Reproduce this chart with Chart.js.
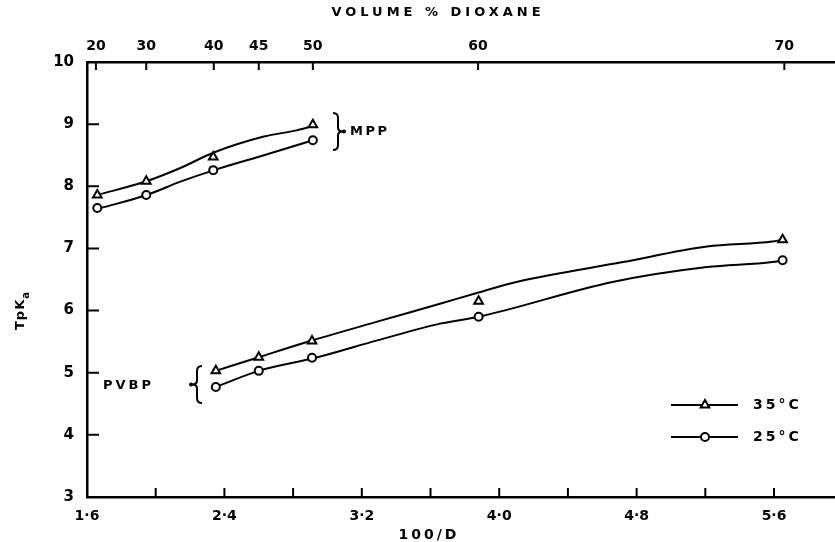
<!DOCTYPE html>
<html>
<head>
<meta charset="utf-8">
<script src="https://cdn.jsdelivr.net/npm/chart.js@4.4.1/dist/chart.umd.min.js"></script>
<style>
  html, body { margin: 0; padding: 0; background: #fff; }
  #wrap { width: 835px; height: 542px; position: relative; }
</style>
</head>
<body>
<div id="wrap"><canvas id="chart"></canvas></div>
<script>
// bottom axis (100/D) and left axis (TpKa)
const xTicks = [1.6, 2.0, 2.4, 2.8, 3.2, 3.6, 4.0, 4.4, 4.8, 5.2, 5.6];
const xTickLabels = ['1·6', '', '2·4', '', '3·2', '', '4·0', '', '4·8', '', '5·6'];
const yTicks = [3, 4, 5, 6, 7, 8, 9, 10];

// top axis: volume % dioxane and where each value sits on the 100/D scale
const dioxanePct = [20, 30, 40, 45, 50, 60, 70];
const dioxaneAt = [1.652, 1.945, 2.338, 2.60, 2.915, 3.877, 5.66];

// measured points
const mppX = [1.66, 1.945, 2.335, 2.915];
const mpp35 = [7.86, 8.08, 8.47, 8.99];
const mpp25 = [7.65, 7.86, 8.26, 8.74];
const pvbpX = [2.35, 2.60, 2.91, 3.88, 5.65];
const pvbp35 = [5.03, 5.25, 5.51, 6.15, 7.14];
const pvbp25 = [4.77, 5.03, 5.24, 5.90, 6.81];

// drawn curves
const mpp35LineX = [1.66, 1.945, 2.14, 2.335, 2.63, 2.82, 2.915];
const mpp35LineY = [7.86, 8.08, 8.29, 8.54, 8.80, 8.90, 8.97];
const mpp25LineX = [1.68, 1.948, 2.14, 2.34, 2.63, 2.916];
const mpp25LineY = [7.65, 7.86, 8.07, 8.26, 8.50, 8.74];
const pvbp35LineX = [2.35, 2.60, 2.90, 3.30, 3.655, 3.88, 4.10, 4.72, 5.21, 5.59, 5.65];
const pvbp35LineY = [5.03, 5.25, 5.51, 5.83, 6.11, 6.29, 6.46, 6.78, 7.03, 7.11, 7.14];
const pvbp25LineX = [2.35, 2.60, 2.93, 3.29, 3.655, 3.88, 4.66, 5.21, 5.59, 5.65];
const pvbp25LineY = [4.77, 5.03, 5.24, 5.52, 5.79, 5.90, 6.46, 6.70, 6.78, 6.81];

const FONT = '"DejaVu Sans", sans-serif';
const pairs = (xs, ys) => xs.map((x, i) => ({ x, y: ys[i] }));

const points = (xs, ys, style, r) => ({
  data: pairs(xs, ys),
  showLine: false,
  pointStyle: style,
  pointRadius: r,
  pointHoverRadius: r,
  pointBorderWidth: 2,
  pointBorderColor: '#000',
  pointBackgroundColor: '#fff'
});

const curve = (xs, ys) => ({
  data: pairs(xs, ys),
  showLine: true,
  borderColor: '#000',
  borderWidth: 2,
  pointRadius: 0,
  cubicInterpolationMode: 'monotone',
  fill: false
});

const drawBrace = (ctx, x, y1, y2, dir) => {
  const ym = (y1 + y2) / 2;
  const w = 5 * dir;
  ctx.beginPath();
  ctx.moveTo(x, y1);
  ctx.quadraticCurveTo(x + w, y1, x + w, y1 + 5);
  ctx.lineTo(x + w, ym - 4);
  ctx.quadraticCurveTo(x + w, ym, x + 2 * w, ym);
  ctx.quadraticCurveTo(x + w, ym, x + w, ym + 4);
  ctx.lineTo(x + w, y2 - 5);
  ctx.quadraticCurveTo(x + w, y2, x, y2);
  ctx.stroke();
  ctx.beginPath();
  ctx.arc(x + 2 * w + dir, ym, 2, 0, Math.PI * 2);
  ctx.fill();
};

const spaced = (ctx, text, x, y, spacing) => {
  ctx.letterSpacing = spacing + 'px';
  ctx.fillText(text, x, y);
  ctx.letterSpacing = '0px';
};

const decorations = {
  id: 'decorations',
  afterDraw(chart) {
    const { ctx, chartArea, scales } = chart;
    ctx.save();
    ctx.strokeStyle = '#000';
    ctx.fillStyle = '#000';
    ctx.lineWidth = 2;

    // inward tick marks
    ctx.beginPath();
    xTicks.forEach(v => {
      const px = scales.x.getPixelForValue(v);
      ctx.moveTo(px, chartArea.bottom);
      ctx.lineTo(px, chartArea.bottom - 9);
    });
    dioxaneAt.forEach(v => {
      const px = scales.x2.getPixelForValue(v);
      ctx.moveTo(px, chartArea.top);
      ctx.lineTo(px, chartArea.top + 8);
    });
    yTicks.forEach(v => {
      const py = scales.y.getPixelForValue(v);
      ctx.moveTo(chartArea.left, py);
      ctx.lineTo(chartArea.left + 12, py);
    });
    ctx.stroke();

    // axis titles
    ctx.textBaseline = 'middle';
    ctx.textAlign = 'center';
    ctx.font = 'bold 13px ' + FONT;
    spaced(ctx, 'VOLUME % DIOXANE', 438, 13, 4);
    ctx.font = 'bold 14px ' + FONT;
    spaced(ctx, '100/D', 429, 535, 3);

    ctx.save();
    ctx.translate(21, 306);
    ctx.rotate(-Math.PI / 2);
    ctx.textAlign = 'left';
    ctx.font = 'bold 13px ' + FONT;
    ctx.letterSpacing = '1px';
    ctx.fillText('TpK', -24, 0);
    const w = ctx.measureText('TpK').width;
    ctx.font = 'bold 10px ' + FONT;
    ctx.fillText('a', -24 + w, 5);
    ctx.restore();

    // series labels with braces
    drawBrace(ctx, 333, 113, 150, 1);
    drawBrace(ctx, 202, 366, 403, -1);
    ctx.textAlign = 'left';
    ctx.font = 'bold 13px ' + FONT;
    spaced(ctx, 'MPP', 350, 132, 2.5);
    spaced(ctx, 'PVBP', 103, 386, 3);

    // legend
    const legend = [
      { y: 405, label: '35°C', style: 'triangle' },
      { y: 437, label: '25°C', style: 'circle' }
    ];
    legend.forEach(item => {
      ctx.lineWidth = 2;
      ctx.beginPath();
      ctx.moveTo(671, item.y);
      ctx.lineTo(738, item.y);
      ctx.stroke();
      ctx.beginPath();
      if (item.style === 'triangle') {
        const r = 5;
        ctx.moveTo(705, item.y - r);
        ctx.lineTo(705 + r * 0.866, item.y + r / 2);
        ctx.lineTo(705 - r * 0.866, item.y + r / 2);
        ctx.closePath();
      } else {
        ctx.arc(705, item.y, 4, 0, Math.PI * 2);
      }
      ctx.fillStyle = '#fff';
      ctx.fill();
      ctx.stroke();
      ctx.fillStyle = '#000';
      ctx.font = 'bold 14px ' + FONT;
      spaced(ctx, item.label, 753, item.y, 3);
    });

    ctx.restore();
  }
};

const tickFont = { family: FONT, size: 14, weight: 'bold' };
const fitHorizontal = h => s => {
  s.height = h;
  s.paddingLeft = 0;
  s.paddingRight = 0;
};

new Chart(document.getElementById('chart'), {
  type: 'scatter',
  data: {
    datasets: [
      points(mppX, mpp35, 'triangle', 5),
      points(mppX, mpp25, 'circle', 4),
      points(pvbpX, pvbp35, 'triangle', 5),
      points(pvbpX, pvbp25, 'circle', 4),
      curve(mpp35LineX, mpp35LineY),
      curve(mpp25LineX, mpp25LineY),
      curve(pvbp35LineX, pvbp35LineY),
      curve(pvbp25LineX, pvbp25LineY)
    ]
  },
  options: {
    responsive: true,
    maintainAspectRatio: false,
    animation: false,
    layout: { padding: 0, autoPadding: false },
    plugins: { legend: { display: false }, tooltip: { enabled: false } },
    scales: {
      x: {
        type: 'linear',
        position: 'bottom',
        min: 1.6,
        max: 5.955,
        afterBuildTicks: s => { s.ticks = xTicks.map(v => ({ value: v })); },
        afterFit: fitHorizontal(45),
        ticks: {
          callback: (v, i) => xTickLabels[i],
          font: tickFont, color: '#000', padding: 11,
          maxRotation: 0, autoSkip: false
        },
        grid: { display: false, drawTicks: false },
        border: { display: true, color: '#000', width: 2.5 }
      },
      x2: {
        type: 'linear',
        position: 'top',
        min: 1.6,
        max: 5.955,
        afterBuildTicks: s => { s.ticks = dioxaneAt.map(v => ({ value: v })); },
        afterFit: fitHorizontal(62),
        ticks: {
          callback: (v, i) => String(dioxanePct[i]),
          font: tickFont, color: '#000', padding: 7,
          maxRotation: 0, autoSkip: false
        },
        grid: { display: false, drawTicks: false },
        border: { display: true, color: '#000', width: 2.5 }
      },
      y: {
        type: 'linear',
        position: 'left',
        min: 3,
        max: 10,
        afterBuildTicks: s => { s.ticks = yTicks.map(v => ({ value: v })); },
        afterFit: s => { s.width = 87; },
        ticks: {
          font: { family: FONT, size: 15, weight: 'bold' }, color: '#000', padding: 13
        },
        grid: { display: false, drawTicks: false },
        border: { display: true, color: '#000', width: 2.5 }
      }
    }
  },
  plugins: [decorations]
});
</script>
</body>
</html>
